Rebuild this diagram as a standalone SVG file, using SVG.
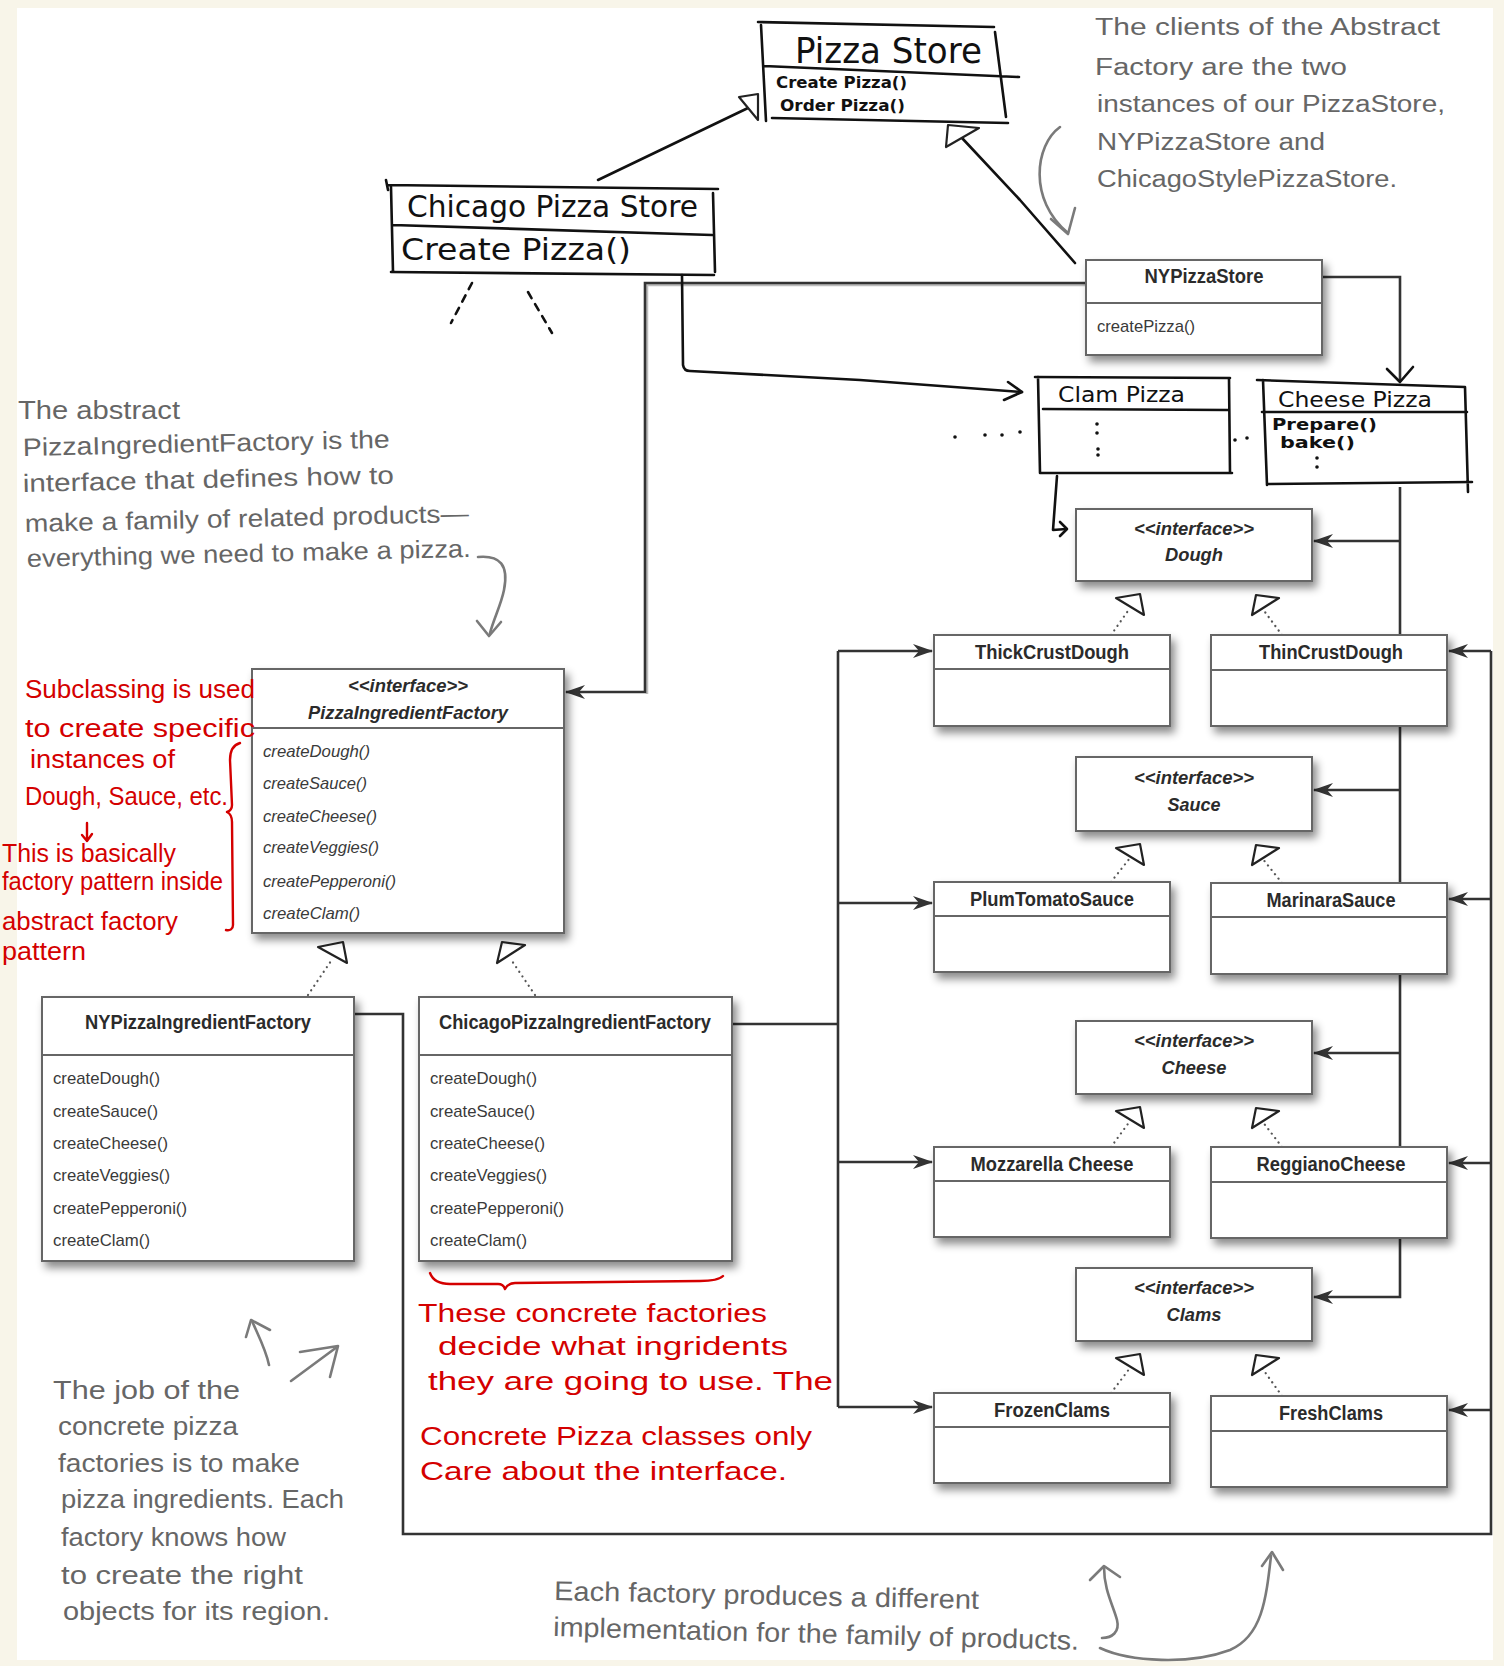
<svg xmlns="http://www.w3.org/2000/svg" width="1504" height="1666" viewBox="0 0 1504 1666">
<defs>
<filter id="sh" x="-10%" y="-10%" width="130%" height="145%"><feDropShadow dx="4" dy="6" stdDeviation="4" flood-color="#000" flood-opacity="0.45"/></filter>
<marker id="arr" viewBox="0 0 20 16" refX="19" refY="8" markerWidth="20" markerHeight="16" markerUnits="userSpaceOnUse" orient="auto"><path d="M0,1 L20,8 L0,15 L6,8 z" fill="#333"/></marker>
<style>
.box{fill:#fff;stroke:#666;stroke-width:2;filter:url(#sh)}
.sep{stroke:#666;stroke-width:2}
.u{font-family:"Liberation Sans",Arial,sans-serif;fill:#2b2b2b}
.ub{font-weight:bold;font-size:20px;text-anchor:middle}
.ui{font-style:italic;font-weight:bold;font-size:19px;text-anchor:middle}
.um{font-size:17px;fill:#3a3a3a}
.umi{font-size:17px;font-style:italic;fill:#3a3a3a}
.h{fill:none;stroke:#111;stroke-width:2.6;stroke-linecap:round;stroke-linejoin:round}
.ht{font-family:"DejaVu Sans",sans-serif;fill:#111}
.c{fill:none;stroke:#333;stroke-width:2.6}
.ca{marker-end:url(#arr)}
.dt{fill:none;stroke:#555;stroke-width:2.2;stroke-dasharray:0.1 5.5;stroke-linecap:round}
.tri{fill:#fff;stroke:#222;stroke-width:2.2;stroke-linejoin:round}
.g{font-family:"Liberation Sans",sans-serif;fill:#666}
.ga{fill:none;stroke:#7a7a7a;stroke-width:2.6;stroke-linecap:round;stroke-linejoin:round}
.r{font-family:"Liberation Sans",sans-serif;fill:#d40000}
.ra{fill:none;stroke:#d40000;stroke-width:2.4;stroke-linecap:round;stroke-linejoin:round}
.dotf{fill:#111}
</style>
</defs>
<rect x="0" y="0" width="1504" height="1666" fill="#f8f5e9"/>
<rect x="17" y="8" width="1476" height="1652" fill="#ffffff"/>

<g id="connectors">
  <path class="h" d="M598,180 L748,108"/>
  <polygon class="tri" points="739,97 758,94 758,120"/>
  <path class="h" d="M1075,263 L1020,200 L962,138"/>
  <polygon class="tri" points="948,125 979,128 946,147"/>
  <path d="M1086,285 L647,285 L647,694" fill="none" stroke="#bdbdbd" stroke-width="2.5"/>
  <path class="c ca" d="M1086,283 L645,283 L645,692 L566,692" stroke="#555"/>
  <path class="h" d="M682,275 L683,365 Q684,371 690,371 L860,380 L1022,392"/>
  <path class="h" d="M1008,382 L1022,392 L1004,400"/>
  <path class="c" d="M1322,277 L1400,277 L1400,381"/>
  <path class="h" d="M1387,369 L1400,382 L1413,367"/>
  <path class="h" d="M1057,476 L1053,530 L1066,529"/>
  <path class="h" d="M1060,522 L1067,529 L1060,536"/>
  <path class="c" d="M1400,487 L1400,635"/>
  <path class="c ca" d="M1400,541 L1314,541"/>
  <path class="c" d="M1400,726 L1400,883"/>
  <path class="c ca" d="M1400,790 L1314,790"/>
  <path class="c" d="M1400,974 L1400,1147"/>
  <path class="c ca" d="M1400,1053 L1314,1053"/>
  <path class="c ca" d="M1400,1238 L1400,1297 L1314,1297"/>
  <path class="c" d="M732,1024 L838,1024"/>
  <path class="c" d="M838,651 L838,1407"/>
  <path class="c ca" d="M838,651 L932,651"/>
  <path class="c ca" d="M838,903 L932,903"/>
  <path class="c ca" d="M838,1162 L932,1162"/>
  <path class="c ca" d="M838,1407 L932,1407"/>
  <path class="c" d="M354,1014 L403,1014 L403,1534 L1491,1534 L1491,651"/>
  <path class="c ca" d="M1491,651 L1449,651"/>
  <path class="c ca" d="M1491,899 L1449,899"/>
  <path class="c ca" d="M1491,1163 L1449,1163"/>
  <path class="c ca" d="M1491,1410 L1449,1410"/>
  <path class="dt" d="M308,995 L333,958"/>
  <polygon class="tri" points="318,947 343,942 347,963"/>
  <path class="dt" d="M535,995 L510,958"/>
  <polygon class="tri" points="497,963 502,942 525,945"/>
  <path class="dt" d="M1111,635 L1130,608"/>
  <polygon class="tri" points="1116,598 1140,594 1144,615"/>
  <path class="dt" d="M1282,635 L1262,608"/>
  <polygon class="tri" points="1252,615 1256,595 1279,598"/>
  <path class="dt" d="M1111,882 L1130,858"/>
  <polygon class="tri" points="1116,848 1140,844 1144,865"/>
  <path class="dt" d="M1282,883 L1262,858"/>
  <polygon class="tri" points="1252,865 1256,845 1279,848"/>
  <path class="dt" d="M1111,1147 L1130,1121"/>
  <polygon class="tri" points="1116,1111 1140,1107 1144,1128"/>
  <path class="dt" d="M1282,1147 L1262,1121"/>
  <polygon class="tri" points="1252,1128 1256,1108 1279,1111"/>
  <path class="dt" d="M1111,1393 L1130,1368"/>
  <polygon class="tri" points="1116,1358 1140,1354 1144,1375"/>
  <path class="dt" d="M1282,1396 L1262,1368"/>
  <polygon class="tri" points="1252,1375 1256,1355 1279,1358"/>
</g>

<g id="PizzaStore">
  <path class="h" d="M758,22 L994,27 M761,25 L766,121 M764,66 L1019,77 M995,32 L1006,117 M772,118 L1008,123"/>
  <text class="ht" x="795" y="63" font-size="36" textLength="187" lengthAdjust="spacingAndGlyphs">Pizza Store</text>
  <text class="ht" x="776" y="88" font-size="15" font-weight="bold" textLength="131" lengthAdjust="spacingAndGlyphs">Create Pizza()</text>
  <text class="ht" x="780" y="111" font-size="15" font-weight="bold" textLength="125" lengthAdjust="spacingAndGlyphs">Order Pizza()</text>
</g>

<g id="ChicagoPizzaStore">
  <path class="h" d="M387,185 L718,189 M386,180 L388,190 M391,187 L393,272 M393,225 L712,235 M713,193 L715,272 M391,272 L714,275"/>
  <text class="ht" x="407" y="217" font-size="30" textLength="291" lengthAdjust="spacingAndGlyphs">Chicago Pizza Store</text>
  <text class="ht" x="401" y="260" font-size="30" textLength="230" lengthAdjust="spacingAndGlyphs">Create Pizza()</text>
  <path class="h" d="M472,283 L451,323" stroke-dasharray="7 7"/>
  <path class="h" d="M528,292 L552,333" stroke-dasharray="7 7"/>
</g>

<g id="NYPizzaStore">
  <rect class="box" x="1086" y="260" width="236" height="95"/>
  <line class="sep" x1="1086" y1="303" x2="1322" y2="303"/>
  <text class="u ub" x="1204" y="283" textLength="119" lengthAdjust="spacingAndGlyphs">NYPizzaStore</text>
  <text class="u um" x="1097" y="332" textLength="98" lengthAdjust="spacingAndGlyphs">createPizza()</text>
</g>

<g id="ClamPizza">
  <path class="h" d="M1035,377 L1230,378 M1038,377 L1040,473 M1043,409 L1228,410 M1229,378 L1230,473 M1040,473 L1232,473"/>
  <text class="ht" x="1058" y="402" font-size="22" textLength="127" lengthAdjust="spacingAndGlyphs">Clam Pizza</text>
  <circle class="dotf" cx="1097" cy="424" r="1.8"/><circle class="dotf" cx="1097" cy="433" r="1.8"/>
  <circle class="dotf" cx="1098" cy="449" r="1.8"/><circle class="dotf" cx="1098" cy="455" r="1.8"/>
  <circle class="dotf" cx="955" cy="437" r="1.8"/><circle class="dotf" cx="985" cy="435" r="1.8"/>
  <circle class="dotf" cx="1002" cy="435" r="1.8"/><circle class="dotf" cx="1020" cy="432" r="1.8"/>
  <circle class="dotf" cx="1235" cy="440" r="1.8"/><circle class="dotf" cx="1247" cy="438" r="1.8"/>
</g>

<g id="CheesePizza">
  <path class="h" d="M1257,380 L1465,387 M1263,380 L1267,485 M1262,412 L1467,412 M1465,387 L1468,492 M1267,484 L1472,482"/>
  <text class="ht" x="1278" y="407" font-size="22" textLength="154" lengthAdjust="spacingAndGlyphs">Cheese Pizza</text>
  <text class="ht" x="1272" y="430" font-size="16" font-weight="bold" textLength="105" lengthAdjust="spacingAndGlyphs">Prepare()</text>
  <text class="ht" x="1280" y="448" font-size="16" font-weight="bold" textLength="75" lengthAdjust="spacingAndGlyphs">bake()</text>
  <circle class="dotf" cx="1317" cy="458" r="1.8"/><circle class="dotf" cx="1317" cy="467" r="1.8"/>
</g>

<g id="Dough">
  <rect class="box" x="1076" y="509" width="236" height="72"/>
  <text class="u ui" x="1194" y="535" textLength="120" lengthAdjust="spacingAndGlyphs">&lt;&lt;interface&gt;&gt;</text>
  <text class="u ui" x="1194" y="561" font-size="20" textLength="58" lengthAdjust="spacingAndGlyphs">Dough</text>
</g>
<g id="ThickCrustDough">
  <rect class="box" x="934" y="635" width="236" height="91"/>
  <line class="sep" x1="934" y1="669" x2="1170" y2="669"/>
  <text class="u ub" x="1052" y="659" textLength="154" lengthAdjust="spacingAndGlyphs">ThickCrustDough</text>
</g>
<g id="ThinCrustDough">
  <rect class="box" x="1211" y="635" width="236" height="91"/>
  <line class="sep" x1="1211" y1="670" x2="1447" y2="670"/>
  <text class="u ub" x="1331" y="659" textLength="144" lengthAdjust="spacingAndGlyphs">ThinCrustDough</text>
</g>

<g id="Sauce">
  <rect class="box" x="1076" y="757" width="236" height="74"/>
  <text class="u ui" x="1194" y="784" textLength="120" lengthAdjust="spacingAndGlyphs">&lt;&lt;interface&gt;&gt;</text>
  <text class="u ui" x="1194" y="811" font-size="20" textLength="53" lengthAdjust="spacingAndGlyphs">Sauce</text>
</g>
<g id="PlumTomatoSauce">
  <rect class="box" x="934" y="882" width="236" height="90"/>
  <line class="sep" x1="934" y1="916" x2="1170" y2="916"/>
  <text class="u ub" x="1052" y="906" textLength="164" lengthAdjust="spacingAndGlyphs">PlumTomatoSauce</text>
</g>
<g id="MarinaraSauce">
  <rect class="box" x="1211" y="883" width="236" height="91"/>
  <line class="sep" x1="1211" y1="917" x2="1447" y2="917"/>
  <text class="u ub" x="1331" y="907" textLength="129" lengthAdjust="spacingAndGlyphs">MarinaraSauce</text>
</g>

<g id="Cheese">
  <rect class="box" x="1076" y="1021" width="236" height="73"/>
  <text class="u ui" x="1194" y="1047" textLength="120" lengthAdjust="spacingAndGlyphs">&lt;&lt;interface&gt;&gt;</text>
  <text class="u ui" x="1194" y="1074" font-size="20" textLength="65" lengthAdjust="spacingAndGlyphs">Cheese</text>
</g>
<g id="MozzarellaCheese">
  <rect class="box" x="934" y="1147" width="236" height="90"/>
  <line class="sep" x1="934" y1="1181" x2="1170" y2="1181"/>
  <text class="u ub" x="1052" y="1171" textLength="163" lengthAdjust="spacingAndGlyphs">Mozzarella Cheese</text>
</g>
<g id="ReggianoCheese">
  <rect class="box" x="1211" y="1147" width="236" height="91"/>
  <line class="sep" x1="1211" y1="1182" x2="1447" y2="1182"/>
  <text class="u ub" x="1331" y="1171" textLength="149" lengthAdjust="spacingAndGlyphs">ReggianoCheese</text>
</g>

<g id="Clams">
  <rect class="box" x="1076" y="1268" width="236" height="73"/>
  <text class="u ui" x="1194" y="1294" textLength="120" lengthAdjust="spacingAndGlyphs">&lt;&lt;interface&gt;&gt;</text>
  <text class="u ui" x="1194" y="1321" font-size="20" textLength="55" lengthAdjust="spacingAndGlyphs">Clams</text>
</g>
<g id="FrozenClams">
  <rect class="box" x="934" y="1393" width="236" height="90"/>
  <line class="sep" x1="934" y1="1427" x2="1170" y2="1427"/>
  <text class="u ub" x="1052" y="1417" textLength="116" lengthAdjust="spacingAndGlyphs">FrozenClams</text>
</g>
<g id="FreshClams">
  <rect class="box" x="1211" y="1396" width="236" height="91"/>
  <line class="sep" x1="1211" y1="1431" x2="1447" y2="1431"/>
  <text class="u ub" x="1331" y="1420" textLength="104" lengthAdjust="spacingAndGlyphs">FreshClams</text>
</g>

<g id="PizzaIngredientFactory">
  <rect class="box" x="252" y="669" width="312" height="264"/>
  <line class="sep" x1="252" y1="728" x2="564" y2="728"/>
  <text class="u ui" x="408" y="692" textLength="120" lengthAdjust="spacingAndGlyphs">&lt;&lt;interface&gt;&gt;</text>
  <text class="u ui" x="408" y="719" font-size="20" textLength="200" lengthAdjust="spacingAndGlyphs">PizzaIngredientFactory</text>
  <text class="u umi" x="263" y="757" textLength="107" lengthAdjust="spacingAndGlyphs">createDough()</text>
  <text class="u umi" x="263" y="789" textLength="104" lengthAdjust="spacingAndGlyphs">createSauce()</text>
  <text class="u umi" x="263" y="822" textLength="114" lengthAdjust="spacingAndGlyphs">createCheese()</text>
  <text class="u umi" x="263" y="853" textLength="116" lengthAdjust="spacingAndGlyphs">createVeggies()</text>
  <text class="u umi" x="263" y="887" textLength="133" lengthAdjust="spacingAndGlyphs">createPepperoni()</text>
  <text class="u umi" x="263" y="919" textLength="97" lengthAdjust="spacingAndGlyphs">createClam()</text>
</g>

<g id="NYPizzaIngredientFactory">
  <rect class="box" x="42" y="997" width="312" height="264"/>
  <line class="sep" x1="42" y1="1055" x2="354" y2="1055"/>
  <text class="u ub" x="198" y="1029" textLength="226" lengthAdjust="spacingAndGlyphs">NYPizzaIngredientFactory</text>
  <text class="u um" x="53" y="1084" textLength="107" lengthAdjust="spacingAndGlyphs">createDough()</text>
  <text class="u um" x="53" y="1117" textLength="105" lengthAdjust="spacingAndGlyphs">createSauce()</text>
  <text class="u um" x="53" y="1149" textLength="115" lengthAdjust="spacingAndGlyphs">createCheese()</text>
  <text class="u um" x="53" y="1181" textLength="117" lengthAdjust="spacingAndGlyphs">createVeggies()</text>
  <text class="u um" x="53" y="1214" textLength="134" lengthAdjust="spacingAndGlyphs">createPepperoni()</text>
  <text class="u um" x="53" y="1246" textLength="97" lengthAdjust="spacingAndGlyphs">createClam()</text>
</g>

<g id="ChicagoPizzaIngredientFactory">
  <rect class="box" x="419" y="997" width="313" height="264"/>
  <line class="sep" x1="419" y1="1055" x2="732" y2="1055"/>
  <text class="u ub" x="575" y="1029" textLength="272" lengthAdjust="spacingAndGlyphs">ChicagoPizzaIngredientFactory</text>
  <text class="u um" x="430" y="1084" textLength="107" lengthAdjust="spacingAndGlyphs">createDough()</text>
  <text class="u um" x="430" y="1117" textLength="105" lengthAdjust="spacingAndGlyphs">createSauce()</text>
  <text class="u um" x="430" y="1149" textLength="115" lengthAdjust="spacingAndGlyphs">createCheese()</text>
  <text class="u um" x="430" y="1181" textLength="117" lengthAdjust="spacingAndGlyphs">createVeggies()</text>
  <text class="u um" x="430" y="1214" textLength="134" lengthAdjust="spacingAndGlyphs">createPepperoni()</text>
  <text class="u um" x="430" y="1246" textLength="97" lengthAdjust="spacingAndGlyphs">createClam()</text>
</g>

<g id="annotations">
  <g class="g" font-size="23">
    <text x="1095" y="35" textLength="345" lengthAdjust="spacingAndGlyphs">The clients of the Abstract</text>
    <text x="1095" y="75" textLength="252" lengthAdjust="spacingAndGlyphs">Factory are the two</text>
    <text x="1097" y="112" textLength="348" lengthAdjust="spacingAndGlyphs">instances of our PizzaStore,</text>
    <text x="1097" y="150" textLength="228" lengthAdjust="spacingAndGlyphs">NYPizzaStore and</text>
    <text x="1097" y="187" textLength="300" lengthAdjust="spacingAndGlyphs">ChicagoStylePizzaStore.</text>
  </g>
  <path class="ga" d="M1060,127 C1035,145 1028,200 1068,233"/>
  <path class="ga" d="M1051,219 L1068,234 L1075,208"/>
  <g class="g" font-size="25">
    <text x="18" y="419" textLength="162" lengthAdjust="spacingAndGlyphs">The abstract</text>
    <text x="23" y="456" textLength="367" lengthAdjust="spacingAndGlyphs" transform="rotate(-1.3 23 456)">PizzaIngredientFactory is the</text>
    <text x="23" y="492" textLength="371" lengthAdjust="spacingAndGlyphs" transform="rotate(-1.3 23 492)">interface that defines how to</text>
    <text x="25" y="532" textLength="444" lengthAdjust="spacingAndGlyphs" transform="rotate(-1.3 25 532)">make a family of related products—</text>
    <text x="27" y="567" textLength="444" lengthAdjust="spacingAndGlyphs" transform="rotate(-1.3 27 567)">everything we need to make a pizza.</text>
  </g>
  <path class="ga" d="M478,557 C500,555 509,565 504,590 C501,605 494,618 490,633"/>
  <path class="ga" d="M477,621 L489,636 L501,622"/>
  <g class="g" font-size="25">
    <text x="53" y="1399" textLength="187" lengthAdjust="spacingAndGlyphs">The job of the</text>
    <text x="58" y="1435" textLength="180" lengthAdjust="spacingAndGlyphs">concrete pizza</text>
    <text x="58" y="1472" textLength="242" lengthAdjust="spacingAndGlyphs">factories is to make</text>
    <text x="61" y="1508" textLength="283" lengthAdjust="spacingAndGlyphs">pizza ingredients. Each</text>
    <text x="61" y="1546" textLength="225" lengthAdjust="spacingAndGlyphs">factory knows how</text>
    <text x="61" y="1584" textLength="242" lengthAdjust="spacingAndGlyphs">to create the right</text>
    <text x="63" y="1620" textLength="267" lengthAdjust="spacingAndGlyphs">objects for its region.</text>
  </g>
  <path class="ga" d="M269,1365 C266,1350 258,1335 252,1321"/>
  <path class="ga" d="M246,1337 L251,1320 L270,1330"/>
  <path class="ga" d="M291,1381 L337,1347"/>
  <path class="ga" d="M300,1352 L338,1346 L330,1377"/>
  <g class="g" font-size="27">
    <text x="554" y="1600" textLength="425" lengthAdjust="spacingAndGlyphs" transform="rotate(1.2 554 1600)">Each factory produces a different</text>
    <text x="553" y="1636" textLength="526" lengthAdjust="spacingAndGlyphs" transform="rotate(1.5 553 1636)">implementation for the family of products.</text>
  </g>
  <path class="ga" d="M1102,1638 C1112,1638 1120,1632 1117,1620 C1113,1605 1104,1590 1104,1567"/>
  <path class="ga" d="M1090,1580 L1104,1566 L1120,1577"/>
  <path class="ga" d="M1100,1648 C1130,1662 1190,1665 1230,1650 C1262,1636 1266,1600 1271,1556"/>
  <path class="ga" d="M1262,1566 L1272,1552 L1283,1570"/>
  <g class="r" font-size="25">
    <text x="25" y="698" textLength="230" lengthAdjust="spacingAndGlyphs">Subclassing is used</text>
    <text x="25" y="737" textLength="230" lengthAdjust="spacingAndGlyphs">to create specific</text>
    <text x="30" y="768" textLength="145" lengthAdjust="spacingAndGlyphs">instances of</text>
    <text x="25" y="805" textLength="203" lengthAdjust="spacingAndGlyphs">Dough, Sauce, etc.</text>
    <text x="2" y="862" textLength="174" lengthAdjust="spacingAndGlyphs">This is basically</text>
    <text x="2" y="890" textLength="221" lengthAdjust="spacingAndGlyphs">factory pattern inside</text>
    <text x="2" y="930" textLength="176" lengthAdjust="spacingAndGlyphs">abstract factory</text>
    <text x="2" y="960" textLength="84" lengthAdjust="spacingAndGlyphs">pattern</text>
  </g>
  <path class="ra" d="M87,823 L87,841 M82,835 L87,841 L92,834"/>
  <path class="ra" d="M240,743 C233,745 230,752 230,760 L232,805 C232,809 230,811 227,812 C231,814 232,818 232,822 L233,925 C233,929 230,931 226,930"/>
  <path class="ra" d="M430,1273 C433,1281 440,1284 450,1284 L498,1284 C502,1284 504,1286 505,1289 C507,1285 510,1283 515,1283 L700,1281 C712,1281 720,1279 723,1276"/>
  <g class="r" font-size="26">
    <text x="418" y="1322" textLength="349" lengthAdjust="spacingAndGlyphs">These concrete factories</text>
    <text x="438" y="1355" textLength="350" lengthAdjust="spacingAndGlyphs">decide what ingridents</text>
    <text x="428" y="1390" textLength="405" lengthAdjust="spacingAndGlyphs">they are going to use. The</text>
    <text x="420" y="1445" textLength="392" lengthAdjust="spacingAndGlyphs">Concrete Pizza classes only</text>
    <text x="420" y="1480" textLength="367" lengthAdjust="spacingAndGlyphs">Care about the interface.</text>
  </g>
</g>
</svg>
